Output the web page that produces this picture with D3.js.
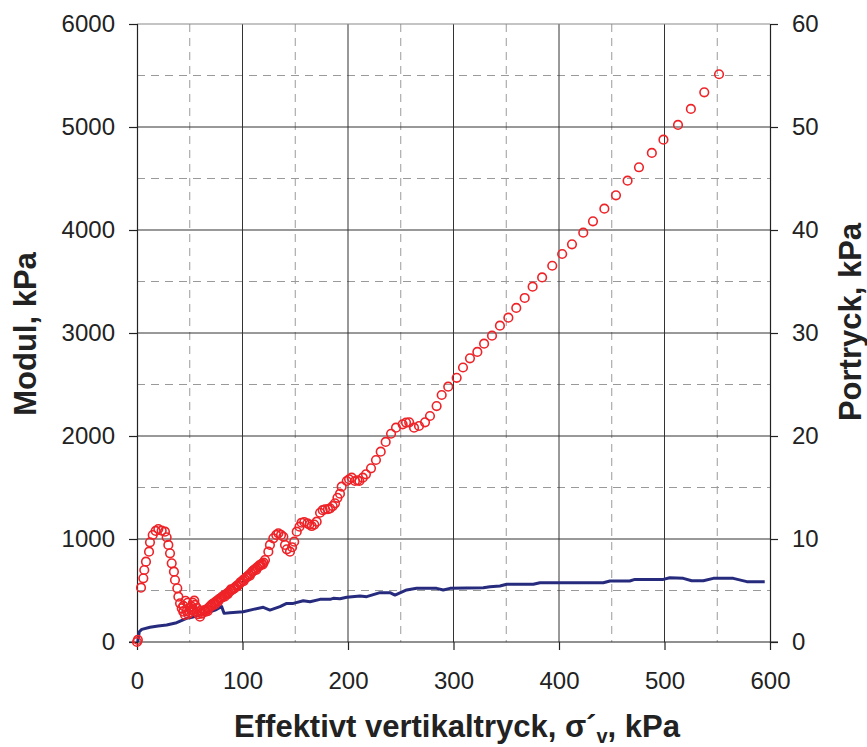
<!DOCTYPE html>
<html>
<head>
<meta charset="utf-8">
<script src="https://cdn.jsdelivr.net/npm/d3@7"></script>
<style>
  html, body { margin: 0; padding: 0; background: #fff; }
  svg { display: block; }
  text { font-family: "Liberation Sans", Arial, sans-serif; fill: #222; }
</style>
</head>
<body>
<svg id="chart" width="867" height="747"></svg>
<script>
// Modulus (left axis, kPa) against effective vertical stress
const modulX = [0, 0.8, 3.8, 6, 6.9, 8.5, 11.4, 12.3, 14.9, 17.7, 20.2, 23.4, 26.5, 28.1, 29.7, 31.3,
  32.9, 35, 36, 38.2, 39.2, 40.8, 42.4, 43.9, 45.5, 47, 48.6, 50, 51.8, 53, 54.3, 55, 53.4, 56.6, 58,
  59.7, 61, 44, 46, 48, 50, 52, 57, 60,
  62, 63.5, 65, 66.5, 68, 69.2, 70.5, 72, 73.5, 75, 76.5, 78, 79.5, 81, 82.5, 84, 85.5, 87,
  88.5, 90, 91.5, 93, 94.5, 96, 97.5, 99, 100.5, 102, 103.5, 105, 106.5, 108, 109.5, 111, 112.5, 114,
  115.5, 117, 118.5, 120,
  64, 67, 71, 74, 77, 80, 83, 86, 89, 92, 95, 98, 101, 104, 107, 110, 113, 116, 119,
  121.3, 124.5, 126, 129.2, 132, 134, 136.5, 138.7, 140.3, 142, 145, 147, 149,
  151.4, 154, 156, 158.5, 161.5, 163.5, 165.6, 168, 170.3, 173.5, 176, 178.2, 181, 183, 185.5, 187.7,
  190, 192.4, 194, 198.8, 201, 203.5, 206.6, 209, 210.8, 214, 217, 221.8, 226.5, 231, 235.7, 240.8,
  245.5, 251.8, 255, 258, 262.6, 267.3, 273, 277.7, 284, 288.8, 295, 303, 309, 315.6, 322.6, 329,
  336.5, 344, 352, 359.5, 367.5, 375, 384, 393.6, 403, 412.3, 423, 432.2, 443, 454, 465, 475.8, 488,
  499, 512.8, 525, 537.7, 551.7];
const modulY = [0, 20, 527, 618, 699, 780, 877, 968, 1039, 1078, 1097, 1081, 1071, 1017, 942, 861,
  764, 683, 602, 521, 440, 376, 327, 294, 262, 300, 272, 330, 343, 380, 401, 360, 311, 294, 270,
  246, 275, 350, 400, 380, 290, 310, 330, 300,
  280, 300, 294, 320, 335, 343, 360, 372, 380, 395, 405, 420, 425, 440, 452, 460, 472, 485,
  495, 505, 515, 530, 545, 555, 570, 585, 600, 612, 625, 640, 655, 668, 685, 700, 712, 725,
  735, 748, 760, 770,
  310, 300, 350, 365, 395, 430, 440, 465, 510, 520, 540, 580, 590, 630, 645, 690, 700, 745, 750,
  796, 877, 942, 1007, 1040, 1055, 1040, 1022, 942, 900, 877, 920, 974,
  1071, 1120, 1158, 1165, 1152, 1140, 1126, 1140, 1168, 1255, 1280, 1288, 1290, 1298, 1320, 1346,
  1400, 1440, 1508, 1563, 1580, 1595, 1563, 1570, 1563, 1595, 1628, 1686, 1767, 1848, 1942, 2022,
  2081, 2113, 2130, 2133, 2081, 2097, 2133, 2194, 2291, 2398, 2479, 2565, 2665, 2754, 2816, 2896,
  2974, 3071, 3149, 3243, 3340, 3450, 3540, 3653, 3767, 3861, 3974, 4084, 4207, 4337, 4479, 4609, 4748,
  4877, 5020, 5175, 5337, 5512];

// Pore pressure (right axis, kPa)
const porX = [0.7, 1.5, 2.2, 4.5, 12.3, 20, 28.1, 37.6, 47, 52, 59.7, 69.2, 74, 77, 80.3, 82.5, 88,
  100.7, 110.2, 119.7, 126, 135.5, 141.9, 148.2, 157.6, 164, 173.5, 183, 186, 192.4, 198.8, 211.4,
  217.7, 230.3, 239.8, 244.5, 255.6, 265, 284, 290.3, 296.7, 328.2, 334.6, 344, 350.4, 375.6, 382,
  442, 448.3, 467, 472, 498.9, 505, 517.8, 525.8, 536.8, 546.3, 565.2, 578, 595];
const porY = [0, 0.6, 1.0, 1.23, 1.43, 1.55, 1.65, 1.87, 2.3, 2.4, 2.62, 2.94, 3.1, 3.27, 3.43, 2.78, 2.85,
  2.94, 3.17, 3.37, 3.1, 3.43, 3.75, 3.75, 4.0, 3.9, 4.14, 4.14, 4.24, 4.2, 4.34, 4.47,
  4.4, 4.79, 4.79, 4.56, 5.05, 5.21, 5.21, 5.05, 5.21, 5.27, 5.37, 5.44, 5.6, 5.6, 5.76,
  5.76, 5.92, 5.92, 6.08, 6.08, 6.24, 6.18, 5.95, 5.95, 6.18, 6.18, 5.86, 5.86];

const xTicks = [0, 100, 200, 300, 400, 500, 600];
const xMinor = [50, 150, 250, 350, 450, 550];
const leftTicks = [0, 1000, 2000, 3000, 4000, 5000, 6000];
const leftMinor = [500, 1500, 2500, 3500, 4500, 5500];
const rightTicks = [0, 10, 20, 30, 40, 50, 60];

const svg = d3.select("#chart");
const L = 137, R = 770, T = 24, B = 642;

const x = d3.scaleLinear().domain([0, 600]).range([L, R]);
const yL = d3.scaleLinear().domain([0, 6000]).range([B, T]);
const yR = d3.scaleLinear().domain([0, 60]).range([B, T]);

// minor dashed grid
const grid = svg.append("g");
grid.selectAll("line.vmin").data(xMinor).join("line")
  .attr("x1", d => x(d)).attr("x2", d => x(d)).attr("y1", T).attr("y2", B)
  .attr("stroke", "#9a9a9a").attr("stroke-width", 1).attr("stroke-dasharray", "8,6");
grid.selectAll("line.hmin").data(leftMinor).join("line")
  .attr("y1", d => yL(d)).attr("y2", d => yL(d)).attr("x1", L).attr("x2", R)
  .attr("stroke", "#9a9a9a").attr("stroke-width", 1).attr("stroke-dasharray", "8,6");
// major solid grid
grid.selectAll("line.vmaj").data(xTicks.slice(1, -1)).join("line")
  .attr("x1", d => x(d)).attr("x2", d => x(d)).attr("y1", T).attr("y2", B)
  .attr("stroke", "#333").attr("stroke-width", 1);
grid.selectAll("line.hmaj").data(leftTicks.slice(1, -1)).join("line")
  .attr("y1", d => yL(d)).attr("y2", d => yL(d)).attr("x1", L).attr("x2", R)
  .attr("stroke", "#333").attr("stroke-width", 1);
// top frame edge
svg.append("line").attr("x1", L).attr("x2", R).attr("y1", T).attr("y2", T)
  .attr("stroke", "#8a8a8a").attr("stroke-width", 1.2);

// axes
const fontSize = "24px";
const gx = svg.append("g").attr("transform", `translate(0,${B})`)
  .call(d3.axisBottom(x).tickValues(xTicks).tickSize(8).tickPadding(22).tickFormat(d3.format("d")));
const gl = svg.append("g").attr("transform", `translate(${L},0)`)
  .call(d3.axisLeft(yL).tickValues(leftTicks).tickSize(8).tickPadding(14).tickFormat(d3.format("d")));
const gr = svg.append("g").attr("transform", `translate(${R},0)`)
  .call(d3.axisRight(yR).tickValues(rightTicks).tickSize(8).tickPadding(14).tickFormat(d3.format("d")));
[gx, gl, gr].forEach(g => {
  g.select(".domain").attr("stroke", "#222").attr("stroke-width", 1.2);
  g.selectAll(".tick line").attr("stroke", "#222").attr("stroke-width", 1.2);
  g.selectAll(".tick text").style("font-size", fontSize).attr("fill", "#222");
});
gx.select(".domain").attr("d", `M${L - 8},0H${R + 8}`);

// pore pressure line
const line = d3.line().x((d, i) => x(porX[i])).y((d, i) => yR(porY[i]));
svg.append("path").datum(porY).attr("d", line)
  .attr("fill", "none").attr("stroke", "#262b7d").attr("stroke-width", 3)
  .attr("stroke-linejoin", "round");

// modulus circles
svg.append("g").selectAll("circle").data(modulY).join("circle")
  .attr("cx", (d, i) => x(modulX[i])).attr("cy", d => yL(d)).attr("r", 4.3)
  .attr("fill", "none").attr("stroke", "#ee2328").attr("stroke-width", 1.6);

// axis titles
svg.append("text").attr("transform", "translate(36,334) rotate(-90)")
  .attr("text-anchor", "middle").style("font-size", "31px").style("font-weight", "bold")
  .text("Modul, kPa");
svg.append("text").attr("transform", "translate(861,322) rotate(-90)")
  .attr("text-anchor", "middle").style("font-size", "31px").style("font-weight", "bold")
  .text("Portryck, kPa");
const xt = svg.append("text").attr("x", 457).attr("y", 737)
  .attr("text-anchor", "middle").style("font-size", "31px").style("font-weight", "bold");
xt.append("tspan").text("Effektivt vertikaltryck, σ´");
xt.append("tspan").attr("dy", 6).style("font-size", "20px").text("v");
xt.append("tspan").attr("dy", -6).text(", kPa");
</script>
</body>
</html>
